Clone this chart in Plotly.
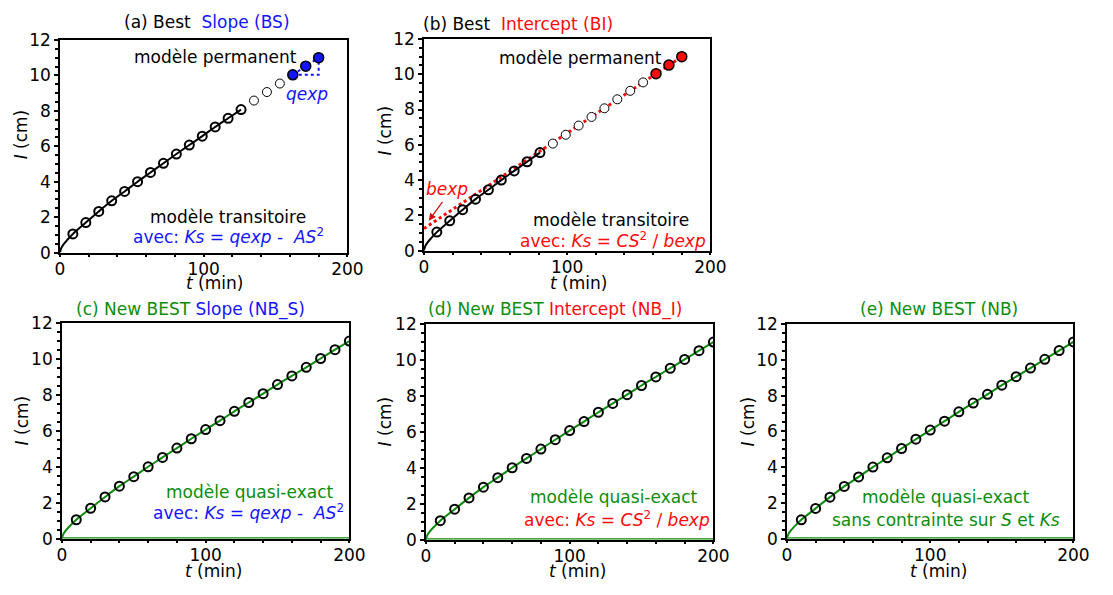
import plotly.graph_objects as go

# ---------------- data ----------------
t_top = [9, 18, 27, 36, 45, 54, 63, 72, 81, 90, 99, 108, 117, 126, 135, 144, 153, 162, 171, 180]
t_bottom = [10, 20, 30, 40, 50, 60, 70, 80, 90, 100, 110, 120, 130, 140, 150, 160, 170, 180, 190, 200]
I_obs = [1.05, 1.69, 2.32, 2.92, 3.45, 4.00, 4.52, 5.04, 5.56, 6.07,
         6.57, 7.09, 7.58, 8.07, 8.58, 9.06, 9.54, 10.03, 10.52, 11.00]

# early part of the model curves (near origin)
head_t_top = [0, 0.9, 2.25, 4.5]
head_t_bottom = [0, 1, 2.5, 5]
head_I = [0, 0.25, 0.43, 0.66]

n_fit_BS = 14      # points used by transient model, panel (a)
n_fit_BI = 9       # points used by transient model, panel (b)
n_steady = 3       # steady-state points
bexp = 1.25        # intercept of steady-state line, panel (b)

x_ticks = [0, 100, 200]
y_ticks = [0, 2, 4, 6, 8, 10, 12]

BLUE = "#1414ff"
RED = "#ff0a0a"
GREEN = "#0c8c0c"
FONT = "DejaVu Sans"
FS = 17

W, H = 1113, 595

# panel pixel boxes: (x_left, x_right, y_top, y_bottom)
boxes = {
    1: (56, 349, 31, 251),
    2: (427, 719, 30, 249),
    3: (58, 351, 324, 547),
    4: (429, 722, 325, 548),
    5: (797, 1089, 325, 547),
}

fig = go.Figure()

def ax(n):
    return ("x" if n == 1 else f"x{n}"), ("y" if n == 1 else f"y{n}")

def px2paper(x, y):
    return x / W, 1 - y / H

open_marker = dict(symbol="circle", size=9, color="rgba(0,0,0,0)",
                   line=dict(color="black", width=2))
thin_marker = dict(symbol="circle", size=9, color="white",
                   line=dict(color="black", width=1))

# ---------- panel (a) ----------
xa, ya = ax(1)
fig.add_trace(go.Scatter(x=head_t_top + t_top[:n_fit_BS], y=head_I + I_obs[:n_fit_BS],
                         mode="lines", line=dict(color="black", width=2, shape="spline"),
                         xaxis=xa, yaxis=ya, showlegend=False))
fig.add_trace(go.Scatter(x=t_top[:n_fit_BS], y=I_obs[:n_fit_BS], mode="markers",
                         marker=open_marker, xaxis=xa, yaxis=ya, showlegend=False))
fig.add_trace(go.Scatter(x=t_top[n_fit_BS:-n_steady], y=I_obs[n_fit_BS:-n_steady], mode="markers",
                         marker=thin_marker, xaxis=xa, yaxis=ya, showlegend=False))
fig.add_trace(go.Scatter(x=t_top[-n_steady:], y=I_obs[-n_steady:], mode="lines",
                         line=dict(color=BLUE, width=2, dash="dot"),
                         xaxis=xa, yaxis=ya, showlegend=False))
fig.add_trace(go.Scatter(x=[t_top[-n_steady], t_top[-1], t_top[-1]],
                         y=[I_obs[-n_steady], I_obs[-n_steady], I_obs[-1]], mode="lines",
                         line=dict(color=BLUE, width=2, dash="dot"),
                         xaxis=xa, yaxis=ya, showlegend=False))
fig.add_trace(go.Scatter(x=t_top[-n_steady:], y=I_obs[-n_steady:], mode="markers",
                         marker=dict(symbol="circle", size=10, color=BLUE,
                                     line=dict(color="black", width=1.5)),
                         xaxis=xa, yaxis=ya, showlegend=False))

# ---------- panel (b) ----------
xb, yb = ax(2)
fig.add_trace(go.Scatter(x=[0, t_top[-1]], y=[bexp, I_obs[-1]], mode="lines",
                         line=dict(color=RED, width=3, dash="dot"),
                         xaxis=xb, yaxis=yb, showlegend=False))
fig.add_trace(go.Scatter(x=head_t_top + t_top[:n_fit_BI], y=head_I + I_obs[:n_fit_BI],
                         mode="lines", line=dict(color="black", width=2, shape="spline"),
                         xaxis=xb, yaxis=yb, showlegend=False))
fig.add_trace(go.Scatter(x=t_top[:n_fit_BI], y=I_obs[:n_fit_BI], mode="markers",
                         marker=open_marker, xaxis=xb, yaxis=yb, showlegend=False))
fig.add_trace(go.Scatter(x=t_top[n_fit_BI:-n_steady], y=I_obs[n_fit_BI:-n_steady], mode="markers",
                         marker=thin_marker, xaxis=xb, yaxis=yb, showlegend=False))
fig.add_trace(go.Scatter(x=t_top[-n_steady:], y=I_obs[-n_steady:], mode="markers",
                         marker=dict(symbol="circle", size=10, color=RED,
                                     line=dict(color="black", width=1.5)),
                         xaxis=xb, yaxis=yb, showlegend=False))

# ---------- panels (c), (d), (e) ----------
for n in (3, 4, 5):
    xn, yn = ax(n)
    fig.add_trace(go.Scatter(x=[0, 200], y=[0, 0], mode="lines",
                             line=dict(color=GREEN, width=2.5), cliponaxis=False,
                             xaxis=xn, yaxis=yn, showlegend=False))
    fig.add_trace(go.Scatter(x=head_t_bottom + t_bottom, y=head_I + I_obs, mode="lines",
                             line=dict(color=GREEN, width=2, shape="spline"),
                             xaxis=xn, yaxis=yn, showlegend=False))
    fig.add_trace(go.Scatter(x=t_bottom, y=I_obs, mode="markers", marker=open_marker,
                             xaxis=xn, yaxis=yn, showlegend=False))

# ---------- axes ----------
layout = dict(width=W, height=H, margin=dict(l=0, r=0, t=0, b=0),
              plot_bgcolor="white", paper_bgcolor="white",
              font=dict(family=FONT, size=FS, color="black"))
for n, (x0, x1, y0, y1) in boxes.items():
    sfx = "" if n == 1 else str(n)
    common = dict(showline=True, linecolor="black", linewidth=1.5, mirror=True,
                  ticks="outside", tickwidth=1.5, tickcolor="black",
                  showgrid=False, zeroline=False,
                  tickfont=dict(family=FONT, size=FS, color="black"))
    layout["xaxis" + sfx] = dict(common, domain=[x0 / W, x1 / W], range=[0, 200],
                                 tickvals=x_ticks, anchor="y" + sfx, ticklen=3,
                                 ticklabelstandoff=-3,
                                 minor=dict(ticks="outside", ticklen=3, dtick=20,
                                            tickcolor="black", showgrid=False))
    layout["yaxis" + sfx] = dict(common, domain=[1 - y1 / H, 1 - y0 / H], range=[0, 12],
                                 tickvals=y_ticks, anchor="x" + sfx, ticklen=4,
                                 minor=dict(ticks="outside", ticklen=3, dtick=0.5,
                                            tickcolor="black", showgrid=False))
fig.update_layout(**layout)

# ---------- annotations ----------
ann = []

def paper_text(x, y, text, angle=0):
    px, py = px2paper(x, y)
    ann.append(dict(x=px, y=py, xref="paper", yref="paper", text=text, showarrow=False,
                    xanchor="center", yanchor="middle", textangle=angle,
                    font=dict(family=FONT, size=FS, color="black")))

def data_text(n, x, y, text, color="black", xanchor="center"):
    xn, yn = ax(n)
    ann.append(dict(x=x, y=y, xref=xn, yref=yn, text=text, showarrow=False,
                    xanchor=xanchor, yanchor="middle",
                    font=dict(family=FONT, size=FS, color=color)))

def sp(text, color):
    return f"<span style='color:{color}'>{text}</span>"

# titles
paper_text(206, 12.5, "(a) Best  " + sp("Slope (BS)", BLUE))
paper_text(523, 14.5, "(b) Best  " + sp("Intercept (BI)", RED))
paper_text(189.5, 309.5, sp("(c) New BEST ", GREEN) + sp("Slope (NB_S)", BLUE))
paper_text(561, 309.5, sp("(d) New BEST ", GREEN) + sp("Intercept (NB_I)", RED))
paper_text(951.5, 309, sp("(e) New BEST (NB)", GREEN))

# axis titles
for x, y in [(214, 283), (585, 282), (212, 580), (583, 581), (951.5, 580)]:
    paper_text(x, y, "<i>t</i> (min)")
for x, y in [(16, 129), (387, 125), (17, 425), (387, 426), (757, 426)]:
    paper_text(x, y, "<i>I</i> (cm)", angle=-90)

eq_slope = "avec: <i>Ks</i> = <i>qexp</i> -  <i>AS</i><sup>2</sup>"
eq_int = "avec: <i>Ks</i> = <i>CS</i><sup>2</sup> / <i>bexp</i>"

# panel (a)
data_text(1, 166.6, 11.02, "modèle permanent", xanchor="right")
data_text(1, 172, 8.95, "<i>qexp</i>", BLUE)
data_text(1, 116.7, 1.99, "modèle transitoire")
data_text(1, 117.4, 0.93, eq_slope, BLUE)

# panel (b)
data_text(2, 167.6, 10.93, "modèle permanent", xanchor="right")
data_text(2, 16.4, 3.5, "<i>bexp</i>", RED)
ann.append(dict(x=3.4, y=1.70, ax=13.7, ay=2.85, xref="x2", yref="y2", axref="x2", ayref="y2",
                text="", showarrow=True, arrowhead=2, arrowsize=1.2, arrowwidth=1.2,
                arrowcolor="#cc1010"))
data_text(2, 130.8, 1.73, "modèle transitoire")
data_text(2, 132.2, 0.58, eq_int, RED)

# panel (c)
data_text(3, 130.4, 2.58, "modèle quasi-exact", GREEN)
data_text(3, 129.7, 1.48, eq_slope, BLUE)
# panel (d)
data_text(4, 130.7, 2.37, "modèle quasi-exact", GREEN)
data_text(4, 132.9, 1.16, eq_int, RED)
# panel (e)
data_text(5, 111, 2.32, "modèle quasi-exact", GREEN)
data_text(5, 111, 1.05, "sans contrainte sur <i>S</i> et <i>Ks</i>", GREEN)

fig.update_layout(annotations=ann)
fig.write_html("out.html", config={"displayModeBar": False},
               post_script="document.body.style.margin='0';")
